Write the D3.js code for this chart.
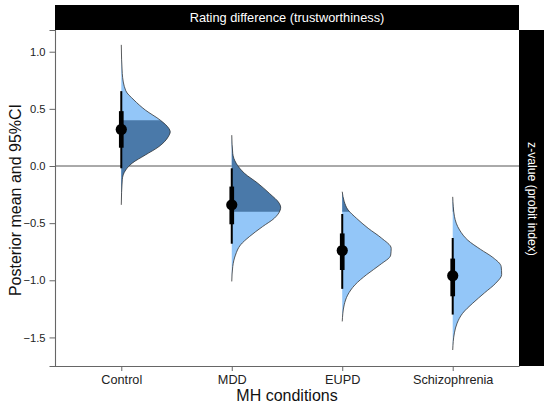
<!DOCTYPE html>
<html>
<head>
<meta charset="utf-8">
<script src="https://cdn.jsdelivr.net/npm/d3@7/dist/d3.min.js"></script>
<style>
  body { margin: 0; background: #fff; }
  text { font-family: "Liberation Sans", Arial, sans-serif; }
</style>
</head>
<body>
<div id="my_dataviz"></div>
<script>
// categories and posterior summaries
var conditions = ["Control", "MDD", "EUPD", "Schizophrenia"];
var means   = [0.32, -0.34, -0.74, -0.96];
var ci66Low  = [0.16, -0.51, -0.91, -1.14];
var ci66High = [0.48, -0.18, -0.59, -0.81];
var ci95Low  = [-0.02, -0.68, -1.075, -1.30];
var ci95High = [0.655, -0.02, -0.42, -0.63];
var ropeLimits = [-0.4, 0.4];
var yTicks = [-1.5, -1.0, -0.5, 0.0, 0.5, 1.0];

// density outlines: [value, relative density]
var densControl = [[1.06,0],[0.81,0.02],[0.66,0.09],[0.577,0.26],[0.49,0.49],[0.40,0.80],[0.33,0.97],[0.30,1.0],[0.256,0.96],[0.17,0.77],[0.096,0.49],[0.024,0.22],[-0.035,0.09],[-0.12,0.02],[-0.34,0]];
var densMDD = [[0.27,0],[0.11,0.02],[0.024,0.09],[-0.064,0.26],[-0.15,0.53],[-0.24,0.77],[-0.326,0.97],[-0.36,1.0],[-0.385,0.99],[-0.457,0.87],[-0.53,0.63],[-0.618,0.36],[-0.69,0.18],[-0.78,0.075],[-0.88,0.02],[-1.01,0]];
var densEUPD = [[-0.225,0],[-0.31,0.04],[-0.385,0.12],[-0.457,0.29],[-0.545,0.53],[-0.63,0.80],[-0.72,1.0],[-0.78,0.99],[-0.865,0.77],[-0.95,0.50],[-1.04,0.26],[-1.13,0.11],[-1.215,0.04],[-1.36,0]];
var densSchizo = [[-0.27,0],[-0.44,0.035],[-0.56,0.14],[-0.65,0.31],[-0.73,0.57],[-0.80,0.82],[-0.88,0.99],[-0.95,1.0],[-1.025,0.88],[-1.11,0.65],[-1.20,0.41],[-1.29,0.20],[-1.375,0.09],[-1.46,0.035],[-1.61,0]];
var densities = [densControl, densMDD, densEUPD, densSchizo];

var margin = {top: 30, right: 31, bottom: 41, left: 55},
    width = 550 - margin.left - margin.right,
    height = 407 - margin.top - margin.bottom;

var svgRoot = d3.select("#my_dataviz")
  .append("svg")
    .attr("width", 550)
    .attr("height", 407);

var svg = svgRoot.append("g")
    .attr("transform", "translate(" + margin.left + "," + margin.top + ")");

var x = d3.scalePoint()
  .domain(conditions)
  .range([0, width])
  .padding(0.6);

var y = d3.scaleLinear()
  .domain([-1.75, 1.19])
  .range([height, 0]);

var w = d3.scaleLinear()
  .domain([0, 1])
  .range([0, x.step() * 0.443]);

// clip for the dark (ROPE) part of each slab
svg.append("clipPath")
    .attr("id", "ropeClip")
  .append("rect")
    .attr("x", 0)
    .attr("width", width)
    .attr("y", y(ropeLimits[1]))
    .attr("height", y(ropeLimits[0]) - y(ropeLimits[1]));

// zero reference line
svg.append("line")
  .attr("x1", 0).attr("x2", width)
  .attr("y1", y(0)).attr("y2", y(0))
  .attr("stroke", "#555")
  .attr("stroke-width", 1);

conditions.forEach(function(c, i) {
  var cx = x(c);
  var area = d3.area()
    .curve(d3.curveMonotoneY)
    .y(function(d) { return y(d[0]); })
    .x0(cx)
    .x1(function(d) { return cx + w(d[1]); });
  var outline = d3.line()
    .curve(d3.curveMonotoneY)
    .y(function(d) { return y(d[0]); })
    .x(function(d) { return cx + w(d[1]); });

  svg.append("path")
    .datum(densities[i])
    .attr("fill", "#93c6f8")
    .attr("d", area);
  svg.append("path")
    .datum(densities[i])
    .attr("fill", "#4a79a9")
    .attr("clip-path", "url(#ropeClip)")
    .attr("d", area);
  svg.append("path")
    .datum(densities[i])
    .attr("fill", "none")
    .attr("stroke", "#333")
    .attr("stroke-width", 0.8)
    .attr("d", outline);

  // intervals and mean
  svg.append("line")
    .attr("x1", cx).attr("x2", cx)
    .attr("y1", y(ci95Low[i])).attr("y2", y(ci95High[i]))
    .attr("stroke", "black")
    .attr("stroke-width", 2);
  svg.append("line")
    .attr("x1", cx).attr("x2", cx)
    .attr("y1", y(ci66Low[i])).attr("y2", y(ci66High[i]))
    .attr("stroke", "black")
    .attr("stroke-width", 4.7);
  svg.append("circle")
    .attr("cx", cx)
    .attr("cy", y(means[i]))
    .attr("r", 5.6)
    .attr("fill", "black");
});

// axes
var yAxis = svg.append("g")
  .call(d3.axisLeft(y).tickValues(yTicks).tickFormat(d3.format(".1f")).tickSize(5.5).tickPadding(4));
yAxis.select(".domain").attr("stroke", "#666").attr("stroke-width", 1.1);
yAxis.selectAll(".tick line").attr("stroke", "#666");
yAxis.selectAll(".tick text").attr("fill", "#222").style("font-size", "11.2px")
  .style("font-family", "'Liberation Sans', Arial, sans-serif");

var xAxis = svg.append("g")
  .attr("transform", "translate(0," + height + ")")
  .call(d3.axisBottom(x).tickSize(5).tickPadding(3.5).tickSizeOuter(0));
xAxis.select(".domain").attr("stroke", "#666").attr("stroke-width", 1.1);
xAxis.selectAll(".tick line").attr("stroke", "#666");
xAxis.selectAll(".tick text").attr("fill", "#222").style("font-size", "12.7px")
  .style("font-family", "'Liberation Sans', Arial, sans-serif");

// facet strips
svgRoot.append("rect")
  .attr("x", margin.left).attr("y", 5)
  .attr("width", width).attr("height", margin.top - 5)
  .attr("fill", "black");
svgRoot.append("text")
  .attr("x", margin.left + width / 2).attr("y", 17.5)
  .attr("text-anchor", "middle")
  .attr("dominant-baseline", "central")
  .attr("fill", "white")
  .style("font-size", "12.8px")
  .text("Rating difference (trustworthiness)");

svgRoot.append("rect")
  .attr("x", margin.left + width).attr("y", margin.top)
  .attr("width", 25).attr("height", height)
  .attr("fill", "black");
svgRoot.append("text")
  .attr("transform", "translate(" + (margin.left + width + 12.5) + "," + (margin.top + height / 2 + 1) + ") rotate(90)")
  .attr("text-anchor", "middle")
  .attr("dominant-baseline", "central")
  .attr("fill", "white")
  .style("font-size", "12.2px")
  .text("z-value (probit index)");

// axis titles
svgRoot.append("text")
  .attr("x", margin.left + width / 2).attr("y", 401)
  .attr("text-anchor", "middle")
  .attr("fill", "#111")
  .style("font-size", "16px")
  .text("MH conditions");

svgRoot.append("text")
  .attr("transform", "translate(21," + (margin.top + height / 2 + 2) + ") rotate(-90)")
  .attr("text-anchor", "middle")
  .attr("fill", "#111")
  .style("font-size", "16px")
  .text("Posterior mean and 95%CI");
</script>
</body>
</html>
